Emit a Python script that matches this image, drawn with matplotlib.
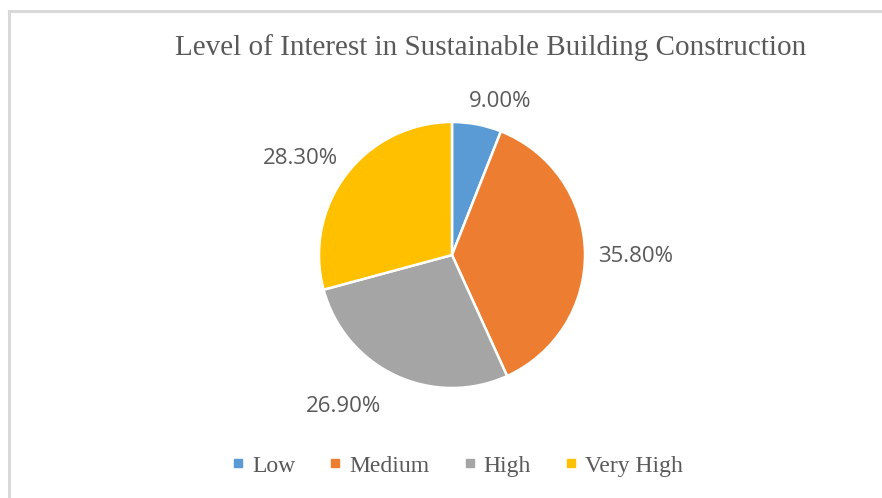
import matplotlib
matplotlib.use("Agg")
import matplotlib.pyplot as plt
import numpy as np
from matplotlib.lines import Line2D

# dados do grafico (tamanhos, rotulos como aparecem)
categories = ["Low", "Medium", "High", "Very High"]
shares = [6.0, 37.2, 27.6, 29.2]
label_text = ["9.00%", "35.80%", "26.90%", "28.30%"]
colors = ["#5B9BD5", "#ED7D31", "#A5A5A5", "#FFC000"]

text_color = "#595959"

fig = plt.figure(figsize=(8.82, 4.98), dpi=100)
W, H = 882, 498

# moldura cinza do grafico
fig.add_artist(Line2D([9 / W, 9 / W], [0, 1 - 11 / H], color="#D9D9D9", linewidth=2.2))
fig.add_artist(Line2D([9 / W, 1], [1 - 11 / H, 1 - 11 / H], color="#D9D9D9", linewidth=2.2))

# eixo da pizza, centro (452, 255) raio 133 px
cx, cy, r = 452, 255, 133
ax = fig.add_axes([(cx - r) / W, (H - cy - r) / H, 2 * r / W, 2 * r / H])
wedges, _ = ax.pie(shares, colors=colors, startangle=90, counterclock=False,
                   wedgeprops=dict(edgecolor="white", linewidth=1.8))
ax.set_xlim(-1, 1)
ax.set_ylim(-1, 1)

# posicao dos rotulos
dists = [1.21, 1.38, 1.40, 1.35]
offsets = [-6.5, -2, -10.6, 5.1]
for w, txt, d, off in zip(wedges, label_text, dists, offsets):
    ang = np.deg2rad((w.theta1 + w.theta2) / 2 + off)
    ax.text(d * np.cos(ang), d * np.sin(ang), txt, ha="center", va="center",
            fontsize=16, family="Open Sans", color=text_color, clip_on=False)

fig.text(491 / W, 1 - 48 / H, "Level of Interest in Sustainable Building Construction",
         ha="center", va="center", fontsize=21, family="Liberation Serif", color=text_color)

handles = [Line2D([], [], marker="s", linestyle="none", markersize=6,
                  markerfacecolor=c, markeredgecolor=c) for c in colors]
fig.legend(handles, categories, loc="center", bbox_to_anchor=(457 / W, 1 - 466 / H),
           ncol=4, frameon=False, handlelength=0.6, handletextpad=0.3, columnspacing=1.4,
           prop=dict(family="Liberation Serif", size=17), labelcolor=text_color)

fig.savefig("out.png", dpi=100)
